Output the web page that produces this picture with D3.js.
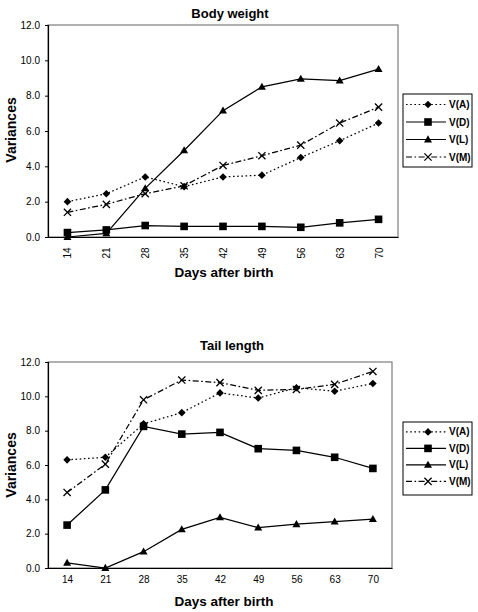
<!DOCTYPE html>
<html>
<head>
<meta charset="utf-8">
<script src="https://cdn.jsdelivr.net/npm/d3@7"></script>
<style>
  body { margin: 0; background: #fff; }
  svg { display: block; font-family: Arial, "Liberation Sans", sans-serif; }
</style>
</head>
<body>
<svg width="478" height="612"></svg>
<script>
// days after birth
const days = [14, 21, 28, 35, 42, 49, 56, 63, 70];
const seriesNames = ["V(A)", "V(D)", "V(L)", "V(M)"];
const yTicks = [0, 2, 4, 6, 8, 10, 12];

// Body weight variances
const bwA = [2.0, 2.45, 3.4, 2.85, 3.4, 3.5, 4.5, 5.45, 6.45];
const bwD = [0.25, 0.4, 0.65, 0.6, 0.6, 0.6, 0.55, 0.8, 1.0];
const bwL = [0.0, 0.2, 2.75, 4.9, 7.15, 8.5, 8.95, 8.85, 9.5];
const bwM = [1.4, 1.85, 2.45, 2.9, 4.05, 4.6, 5.2, 6.45, 7.35];

// Tail length variances
const tlA = [6.3, 6.45, 8.4, 9.05, 10.2, 9.9, 10.5, 10.3, 10.75];
const tlD = [2.5, 4.55, 8.25, 7.8, 7.9, 6.95, 6.85, 6.45, 5.8];
const tlL = [0.3, 0.0, 0.95, 2.25, 2.95, 2.35, 2.55, 2.7, 2.85];
const tlM = [4.4, 6.05, 9.8, 10.95, 10.8, 10.35, 10.4, 10.7, 11.45];

const svg = d3.select("svg");

const styles = {
  "V(A)": {dash: "1.6,2.6", marker: "diamond"},
  "V(D)": {dash: null, marker: "square"},
  "V(L)": {dash: null, marker: "triangle"},
  "V(M)": {dash: "6,2.5,1.6,2.5", marker: "cross"}
};

function drawMarker(g, type, x, y) {
  if (type == "diamond") {
    g.append("path").attr("d", `M${x},${y-3.8}L${x+3.8},${y}L${x},${y+3.8}L${x-3.8},${y}Z`).attr("fill", "#000");
  } else if (type == "square") {
    g.append("rect").attr("x", x-3.8).attr("y", y-3.8).attr("width", 7.6).attr("height", 7.6).attr("fill", "#000");
  } else if (type == "triangle") {
    g.append("path").attr("d", `M${x},${y-4.2}L${x+4},${y+2.9}L${x-4},${y+2.9}Z`).attr("fill", "#000");
  } else {
    g.append("path").attr("d", `M${x-3.6},${y-3.6}L${x+3.6},${y+3.6}M${x+3.6},${y-3.6}L${x-3.6},${y+3.6}`)
      .attr("stroke", "#000").attr("stroke-width", 1.3);
  }
}

function drawChart(cfg) {
  const g = svg.append("g");
  const x = d3.scalePoint().domain(days).range([cfg.left, cfg.right]).padding(0.5);
  const y = d3.scaleLinear().domain([0, 12]).range([cfg.bottom, cfg.top]);

  // plot frame
  g.append("rect")
    .attr("x", cfg.left).attr("y", cfg.top)
    .attr("width", cfg.right - cfg.left).attr("height", cfg.bottom - cfg.top)
    .attr("fill", "none").attr("stroke", "#888").attr("stroke-width", 1.3);

  // y axis
  const yAxis = d3.axisLeft(y).tickValues(yTicks).tickSize(3).tickFormat(d3.format(".1f"));
  const ya = g.append("g").attr("transform", `translate(${cfg.left},0)`).call(yAxis);
  ya.select(".domain").attr("stroke", "#000").attr("stroke-width", 1.2);
  ya.selectAll("text").attr("font-size", 10).attr("dx", "-2");

  // x axis
  const xAxis = d3.axisBottom(x).tickSize(0).tickSizeOuter(0);
  const xa = g.append("g").attr("transform", `translate(0,${cfg.bottom})`).call(xAxis);
  xa.select(".domain").attr("stroke", "#000").attr("stroke-width", 1.2);
  if (cfg.rotate) {
    xa.selectAll("text")
      .attr("font-size", 10)
      .attr("transform", "rotate(-90)")
      .attr("text-anchor", "middle")
      .attr("x", -16).attr("y", 0).attr("dy", "0.35em");
  } else {
    xa.selectAll("text").attr("font-size", 10).attr("dy", "1.2em");
  }

  // titles
  g.append("text").attr("x", cfg.titleX).attr("y", cfg.titleY)
    .attr("text-anchor", "middle").attr("font-weight", "bold").attr("font-size", 13).text(cfg.title);
  g.append("text").attr("x", cfg.xTitleX).attr("y", cfg.xTitleY)
    .attr("text-anchor", "middle").attr("font-weight", "bold").attr("font-size", 13.5).text("Days after birth");
  g.append("text")
    .attr("transform", `translate(${cfg.yTitleX},${cfg.yTitleY}) rotate(-90)`)
    .attr("text-anchor", "middle").attr("font-weight", "bold").attr("font-size", 14).text("Variances");

  // series
  const line = d3.line().x((d, i) => x(days[i])).y(d => y(d));
  seriesNames.forEach((name, k) => {
    const vals = cfg.series[k];
    const st = styles[name];
    g.append("path").datum(vals).attr("d", line)
      .attr("fill", "none").attr("stroke", "#000").attr("stroke-width", 1.25)
      .attr("stroke-dasharray", st.dash);
    const mg = g.append("g");
    vals.forEach((v, i) => drawMarker(mg, st.marker, x(days[i]), y(v)));
  });

  // legend
  const lg = g.append("g");
  lg.append("rect").attr("x", cfg.legX).attr("y", cfg.legY)
    .attr("width", 69).attr("height", cfg.legH)
    .attr("fill", "#fff").attr("stroke", "#000").attr("stroke-width", 1);
  seriesNames.forEach((name, k) => {
    const st = styles[name];
    const ly = cfg.legY + cfg.legStep * (k + 0.6);
    lg.append("line").attr("x1", cfg.legX + 3).attr("x2", cfg.legX + 43)
      .attr("y1", ly).attr("y2", ly)
      .attr("stroke", "#000").attr("stroke-width", 1.2).attr("stroke-dasharray", st.dash);
    drawMarker(lg, st.marker, cfg.legX + 25, ly);
    lg.append("text").attr("x", cfg.legX + 46).attr("y", ly).attr("dy", "0.35em")
      .attr("font-size", 10).attr("font-weight", "bold").text(name);
  });
}

drawChart({
  title: "Body weight", series: [bwA, bwD, bwL, bwM],
  left: 48, right: 398, top: 25, bottom: 237, rotate: true,
  titleX: 230, titleY: 18, xTitleX: 224, xTitleY: 277, yTitleX: 16, yTitleY: 130,
  legX: 403, legY: 94, legH: 73, legStep: 17.5
});

drawChart({
  title: "Tail length", series: [tlA, tlD, tlL, tlM],
  left: 48, right: 392, top: 362, bottom: 568, rotate: false,
  titleX: 232, titleY: 350, xTitleX: 224, xTitleY: 606, yTitleX: 16, yTitleY: 465,
  legX: 403, legY: 422, legH: 73, legStep: 16.5
});
</script>
</body>
</html>
